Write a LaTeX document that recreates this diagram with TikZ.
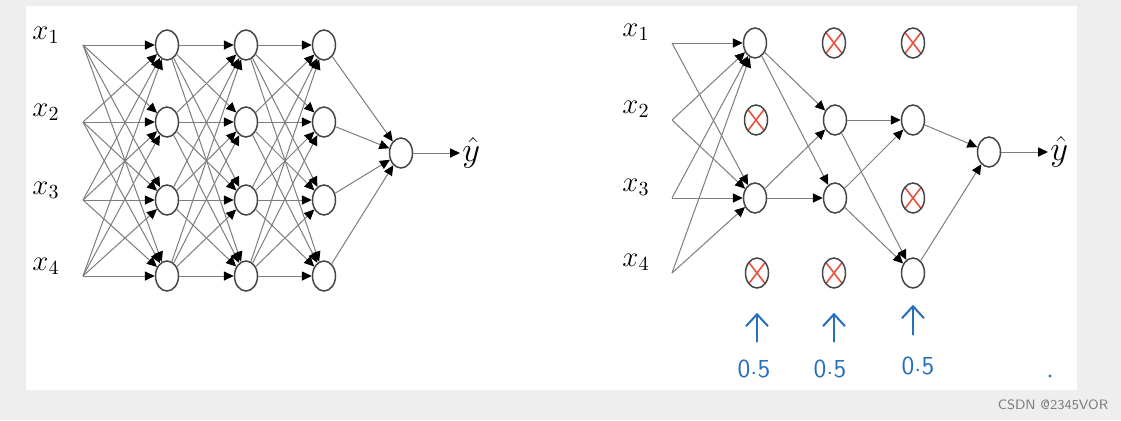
\documentclass[tikz,border=0pt]{standalone}
\usepackage{tikz}
\usetikzlibrary{positioning,arrows.meta,shapes.geometric}
\definecolor{bggray}{RGB}{238,238,238}
\definecolor{wiregray}{RGB}{125,125,125}
\definecolor{ringgray}{RGB}{70,70,70}
\definecolor{dropred}{RGB}{232,82,62}
\definecolor{penblue}{RGB}{38,110,190}
\definecolor{markgray}{RGB}{125,125,125}

\begin{document}
\begin{tikzpicture}[x=0.5pt, y=-0.5pt, >={Triangle[length=5pt,width=4.6pt,color=black,fill=black]},
  unit/.style={draw=ringgray, line width=0.75pt, ellipse, minimum width=11.5pt, minimum height=15pt, inner sep=0pt, fill=white},
  dropped/.style={unit, path picture={\draw[dropred, line width=0.8pt] (path picture bounding box.north west) -- (path picture bounding box.south east) (path picture bounding box.north east) -- (path picture bounding box.south west);}},
  wire/.style={draw=wiregray, line width=0.5pt, ->},
  inlabel/.style={font=\fontsize{14}{16}\selectfont},
  outlabel/.style={font=\fontsize{18}{20}\selectfont, anchor=west, inner sep=1pt},
  probarrow/.style={draw=penblue, line width=1pt, line cap=round, -{Straight Barb[length=6pt,width=11pt]}},
  prob/.style={text=penblue, font=\sffamily\fontsize{13}{15}\selectfont, inner sep=0pt}]
\useasboundingbox (0,0) rectangle (1121,420);
\fill[bggray] (0,0) rectangle (1121,420);
\fill[white] (26,6) rectangle (1077,390);

% full network
\foreach \r/\y in {1/45,2/122,3/200,4/276}{
  \node[inlabel] (lx\r) at (46,\y-10) {$x_\r$};
  \coordinate (lin\r) at (83,\y);
  \node[unit] (la\r) at (167,\y) {};
  \node[unit] (lb\r) at (246,\y) {};
  \node[unit] (lc\r) at (324,\y) {};
}
\node[unit] (lout) at (401,153) {};
\node[outlabel] (lyhat) at (460,153) {$\hat{y}$};
\foreach \i in {1,...,4}{
  \foreach \j in {1,...,4}{
    \draw[wire] (lin\i) -- (la\j);
    \draw[wire] (la\i) -- (lb\j);
    \draw[wire] (lb\i) -- (lc\j);
  }
  \draw[wire] (lc\i) -- (lout);
}
\draw[wire] (lout) -- (lyhat);

% thinned network
\foreach \r/\y in {1/43,2/120,3/198,4/273}{
  \node[inlabel] (rx\r) at (636,\y-11) {$x_\r$};
  \coordinate (rin\r) at (672,\y);
}
\node[unit] (ra1) at (755,43) {};
\node[dropped] (ra2) at (756,120) {};
\node[unit] (ra3) at (755,198) {};
\node[dropped] (ra4) at (757,273) {};
\node[dropped] (rb1) at (834,43) {};
\node[unit] (rb2) at (835,120) {};
\node[unit] (rb3) at (835,198) {};
\node[dropped] (rb4) at (834,273) {};
\node[dropped] (rc1) at (913,43) {};
\node[unit] (rc2) at (913,120) {};
\node[dropped] (rc3) at (913,198) {};
\node[unit] (rc4) at (913,273) {};
\node[unit] (rout) at (989,152) {};
\node[outlabel] (ryhat) at (1048,152) {$\hat{y}$};
\foreach \i in {1,...,4}{
  \draw[wire] (rin\i) -- (ra1);
  \draw[wire] (rin\i) -- (ra3);
}
\foreach \i in {1,3}{
  \draw[wire] (ra\i) -- (rb2);
  \draw[wire] (ra\i) -- (rb3);
}
\foreach \i in {2,3}{
  \draw[wire] (rb\i) -- (rc2);
  \draw[wire] (rb\i) -- (rc4);
}
\draw[wire] (rc2) -- (rout);
\draw[wire] (rc4) -- (rout);
\draw[wire] (rout) -- (ryhat);

% keep probabilities
\node[prob] (pa) at (754,369) {0\raisebox{0.3ex}{.}5};
\node[prob] (pb) at (830,369) {0\raisebox{0.3ex}{.}5};
\node[prob] (pc) at (918,366) {0\raisebox{0.3ex}{.}5};
\draw[probarrow, shorten <=9pt, shorten >=12pt] (pa.north -| ra4) -- (ra4);
\draw[probarrow, shorten <=9pt, shorten >=12pt] (pb.north -| rb4) -- (rb4);
\draw[probarrow, shorten <=11pt, shorten >=8pt] (pc.north -| rc4) -- (rc4);
\fill[penblue] (1050,376) circle (0.8pt);

\node[font=\sffamily\fontsize{6.8}{8}\selectfont, text=markgray] (mark) at (1053,405) {CSDN @2345VOR};
\end{tikzpicture}
\end{document}
